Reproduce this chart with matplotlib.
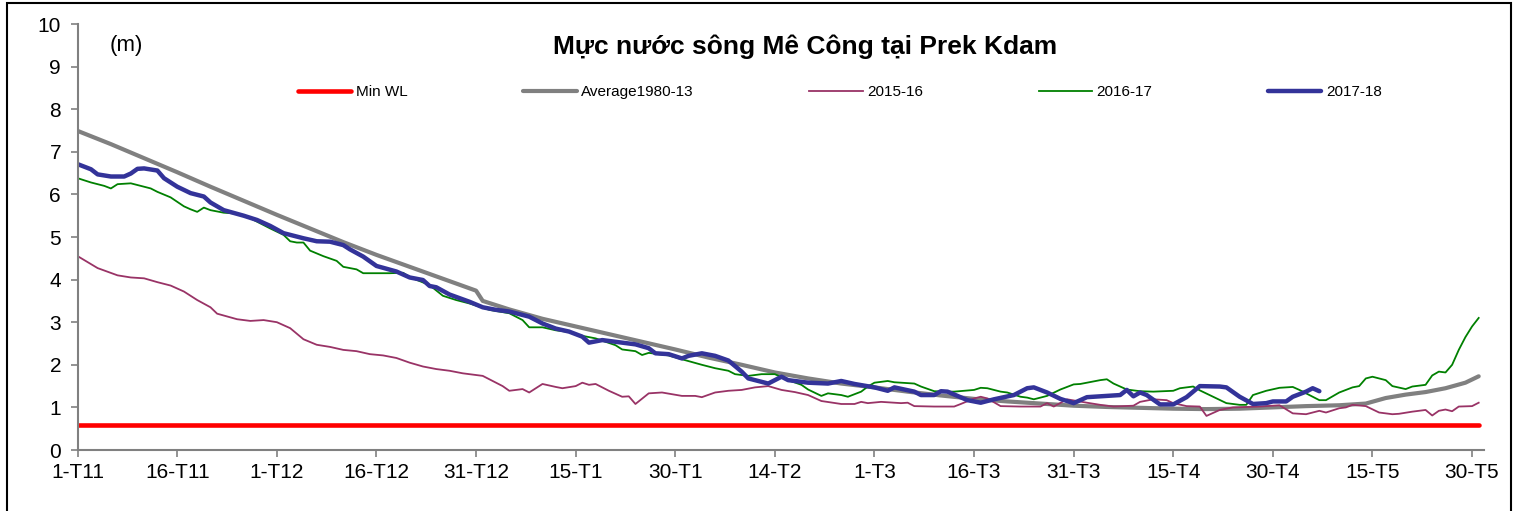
import matplotlib
matplotlib.use('Agg')
import matplotlib.pyplot as plt
from matplotlib.patches import Rectangle

plt.rcParams['font.family'] = ['Liberation Sans', 'DejaVu Sans']

# nhãn trục x (ngày kể từ 1-T11)
tick_days = [0, 15, 30, 45, 60, 75, 90, 105, 120, 135, 150, 165, 180, 195, 210]
tick_labels = ['1-T11', '16-T11', '1-T12', '16-T12', '31-T12', '15-T1', '30-T1', '14-T2',
               '1-T3', '16-T3', '31-T3', '15-T4', '30-T4', '15-T5', '30-T5']

# Min WL
min_days = [0, 211]
min_wl = [0.58, 0.58]

# Average1980-13
avg_days = [0, 5, 10, 15, 20, 25, 30, 35, 40, 45, 50, 55, 60, 61, 65, 70, 75, 80, 85, 90,
            95, 100, 105, 110, 115, 120, 125, 130, 135, 140, 145, 150, 155, 160, 165, 170,
            175, 180, 185, 190, 194, 197, 200, 203, 206, 209, 211]
avg_wl = [7.49, 7.18, 6.85, 6.52, 6.18, 5.85, 5.52, 5.2, 4.88, 4.58, 4.3, 4.02, 3.74, 3.5,
          3.3, 3.08, 2.9, 2.72, 2.54, 2.36, 2.17, 2.0, 1.82, 1.68, 1.56, 1.47, 1.37, 1.28,
          1.2, 1.14, 1.09, 1.04, 1.01, 0.99, 0.97, 0.96, 0.97, 1.0, 1.03, 1.05, 1.09, 1.22,
          1.3, 1.36, 1.45, 1.58, 1.73]

# 2015-16
d1516 = [0, 3, 6, 8, 10, 12, 14, 16, 18, 20, 21, 24, 26, 28, 30, 32, 34, 36, 38, 40, 42, 44,
         46, 48, 50, 52, 54, 56, 58, 61, 64, 65, 67, 68, 70, 72, 73, 75, 76, 77, 78, 80, 82,
         83, 84, 86, 88, 91, 93, 94, 96, 98, 100, 102, 104, 106, 108, 110, 112, 115, 117,
         118, 119, 121, 124, 125, 126, 129, 132, 133, 135, 136, 137, 139, 142, 145, 146,
         147, 149, 152, 154, 156, 159, 160, 162, 164, 165, 167, 169, 170, 172, 174, 178,
         181, 183, 185, 187, 188, 190, 191, 192, 194, 196, 198, 199, 201, 203, 204, 205,
         206, 207, 208, 210, 211]
wl1516 = [4.55, 4.27, 4.1, 4.05, 4.03, 3.94, 3.86, 3.72, 3.52, 3.35, 3.2, 3.07, 3.03, 3.05,
          3.0, 2.86, 2.6, 2.47, 2.42, 2.35, 2.32, 2.25, 2.22, 2.16, 2.05, 1.96, 1.9, 1.86,
          1.8, 1.74, 1.5, 1.39, 1.43, 1.35, 1.55, 1.48, 1.45, 1.5, 1.58, 1.53, 1.55, 1.39,
          1.25, 1.26, 1.08, 1.33, 1.35, 1.27, 1.27, 1.24, 1.35, 1.39, 1.41, 1.47, 1.5, 1.41,
          1.36, 1.29, 1.15, 1.08, 1.08, 1.13, 1.1, 1.13, 1.1, 1.11, 1.03, 1.02, 1.02, 1.08,
          1.21, 1.25, 1.21, 1.03, 1.02, 1.02, 1.1, 1.02, 1.19, 1.11, 1.06, 1.02, 1.04, 1.13,
          1.19, 1.17, 1.1, 1.03, 1.02, 0.8, 0.94, 1.0, 1.02, 1.05, 0.86, 0.84, 0.92, 0.88,
          0.98, 1.0, 1.06, 1.03, 0.88, 0.84, 0.85, 0.9, 0.94, 0.81, 0.92, 0.95, 0.91, 1.02,
          1.03, 1.11]

# 2016-17
d1617 = [0, 2, 4, 5, 6, 8, 9, 11, 12, 14, 16, 17, 18, 19, 20, 22, 24, 26, 29, 31, 32, 33,
         34, 35, 37, 39, 40, 42, 43, 47, 49, 50, 53, 55, 57, 59, 62, 65, 67, 68, 70, 72, 74,
         76, 78, 81, 82, 84, 85, 86, 89, 91, 94, 96, 98, 99, 101, 103, 105, 107, 109, 110,
         112, 113, 115, 116, 118, 119, 120, 122, 123, 126, 127, 129, 131, 132, 135, 136,
         137, 139, 140, 142, 143, 144, 146, 148, 150, 151, 152, 154, 155, 156, 158, 160,
         162, 165, 166, 168, 169, 171, 173, 175, 176, 177, 179, 181, 183, 184, 187, 188,
         190, 192, 193, 194, 195, 197, 198, 200, 201, 203, 204, 205, 206, 207, 208, 209,
         210, 211]
wl1617 = [6.38, 6.28, 6.2, 6.14, 6.24, 6.26, 6.22, 6.14, 6.06, 5.93, 5.72, 5.65, 5.59, 5.69,
          5.63, 5.57, 5.55, 5.44, 5.2, 5.05, 4.9, 4.87, 4.87, 4.68, 4.55, 4.44, 4.3, 4.24,
          4.15, 4.15, 4.16, 4.06, 3.87, 3.62, 3.52, 3.44, 3.29, 3.21, 3.05, 2.88, 2.88, 2.81,
          2.77, 2.68, 2.62, 2.46, 2.36, 2.32, 2.23, 2.28, 2.22, 2.13, 2.0, 1.92, 1.86, 1.78,
          1.74, 1.78, 1.78, 1.64, 1.53, 1.42, 1.27, 1.33, 1.29, 1.25, 1.37, 1.49, 1.58, 1.62,
          1.59, 1.56, 1.49, 1.38, 1.37, 1.37, 1.41, 1.46, 1.45, 1.37, 1.35, 1.25, 1.23, 1.19,
          1.27, 1.42, 1.54, 1.55, 1.58, 1.64, 1.66, 1.56, 1.42, 1.38, 1.37, 1.39, 1.45, 1.49,
          1.4, 1.25, 1.1, 1.06, 1.06, 1.29, 1.39, 1.46, 1.48, 1.41, 1.17, 1.17, 1.35, 1.47,
          1.5, 1.68, 1.72, 1.64, 1.5, 1.43, 1.49, 1.53, 1.75, 1.84, 1.82, 2.0, 2.35, 2.65,
          2.9, 3.1]

# 2017-18
d1718 = [0, 2, 3, 5, 7, 8, 9, 10, 12, 13, 15, 17, 19, 20, 22, 25, 27, 29, 31, 34, 36, 38,
         40, 41, 43, 45, 48, 50, 52, 53, 54, 56, 59, 61, 63, 65, 68, 70, 72, 74, 76, 77, 79,
         81, 84, 86, 87, 89, 91, 92, 94, 96, 98, 100, 101, 104, 106, 107, 110, 113, 115,
         117, 120, 122, 123, 126, 127, 129, 130, 131, 134, 136, 138, 141, 143, 144, 146,
         148, 150, 152, 155, 157, 158, 159, 160, 161, 163, 165, 167, 169, 172, 173, 175,
         177, 179, 180, 182, 183, 185, 186, 187]
wl1718 = [6.71, 6.59, 6.47, 6.42, 6.42, 6.49, 6.6, 6.61, 6.56, 6.38, 6.18, 6.03, 5.95, 5.81,
          5.63, 5.5, 5.4, 5.26, 5.09, 4.97, 4.9, 4.89, 4.81, 4.71, 4.54, 4.32, 4.19, 4.05,
          3.99, 3.85, 3.82, 3.65, 3.48, 3.35, 3.29, 3.25, 3.13, 2.97, 2.85, 2.78, 2.66, 2.52,
          2.58, 2.54, 2.48, 2.39, 2.27, 2.25, 2.15, 2.21, 2.27, 2.21, 2.1, 1.84, 1.68, 1.56,
          1.72, 1.64, 1.58, 1.56, 1.62, 1.55, 1.47, 1.39, 1.47, 1.37, 1.29, 1.29, 1.38, 1.37,
          1.17, 1.11, 1.19, 1.29, 1.45, 1.47, 1.35, 1.2, 1.1, 1.24, 1.27, 1.29, 1.41, 1.26,
          1.35, 1.29, 1.07, 1.07, 1.24, 1.5, 1.49, 1.47, 1.25, 1.08, 1.1, 1.14, 1.14, 1.25,
          1.37, 1.45, 1.38]

fig = plt.figure(figsize=(15.18, 5.11), dpi=100)
ax = fig.add_axes([77.7 / 1518, 1 - 450 / 511, (1484 - 77.7) / 1518, 426 / 511])

ax.plot(min_days, min_wl, color='#FF0000', lw=3.3, label='Min WL', solid_capstyle='round')
ax.plot(avg_days, avg_wl, color='#808080', lw=3.0, label='Average1980-13', solid_capstyle='round')
ax.plot(d1516, wl1516, color='#993366', lw=1.3, label='2015-16')
ax.plot(d1617, wl1617, color='#008000', lw=1.3, label='2016-17')
ax.plot(d1718, wl1718, color='#333399', lw=3.2, label='2017-18', solid_capstyle='round')

ax.set_xlim(0, 211.8)
ax.set_ylim(0, 10)
ax.set_yticks(range(0, 11))
ax.set_xticks(tick_days)
ax.set_xticklabels(tick_labels)
ax.tick_params(axis='y', direction='out', length=5, width=1.2, color='#808080', labelsize=15, pad=7)
ax.tick_params(axis='x', direction='out', length=5, width=1.2, color='#808080', labelsize=15, pad=4)

# chỉ giữ trục trái và trục dưới
ax.spines['top'].set_visible(False)
ax.spines['right'].set_visible(False)
ax.spines['left'].set_color('#808080')
ax.spines['bottom'].set_color('#808080')
ax.spines['left'].set_linewidth(1.5)
ax.spines['bottom'].set_linewidth(1.5)

# tiêu đề + đơn vị
fig.text(805.5 / 1518, 1 - 47 / 511, 'Mực nước sông Mê Công tại Prek Kdam', fontsize=19,
         fontweight='bold', ha='center', va='center')
fig.text(126 / 1518, 1 - 45 / 511, '(m)', fontsize=16, ha='center', va='center')

ax.legend(ncol=5, loc='center left', bbox_to_anchor=(298 / 1518, 1 - 92 / 511),
          bbox_transform=fig.transFigure, frameon=False, fontsize=11, handlelength=3.5,
          handletextpad=0.3, columnspacing=7.55, borderpad=0, borderaxespad=0)

# khung viền ngoài
fig.patches.append(Rectangle((7 / 1518, -0.01), 1504 / 1518, 1 - 2.5 / 511 + 0.01,
                             transform=fig.transFigure, fill=False, ec='black', lw=1.5))

fig.savefig('out.png', dpi=100)
